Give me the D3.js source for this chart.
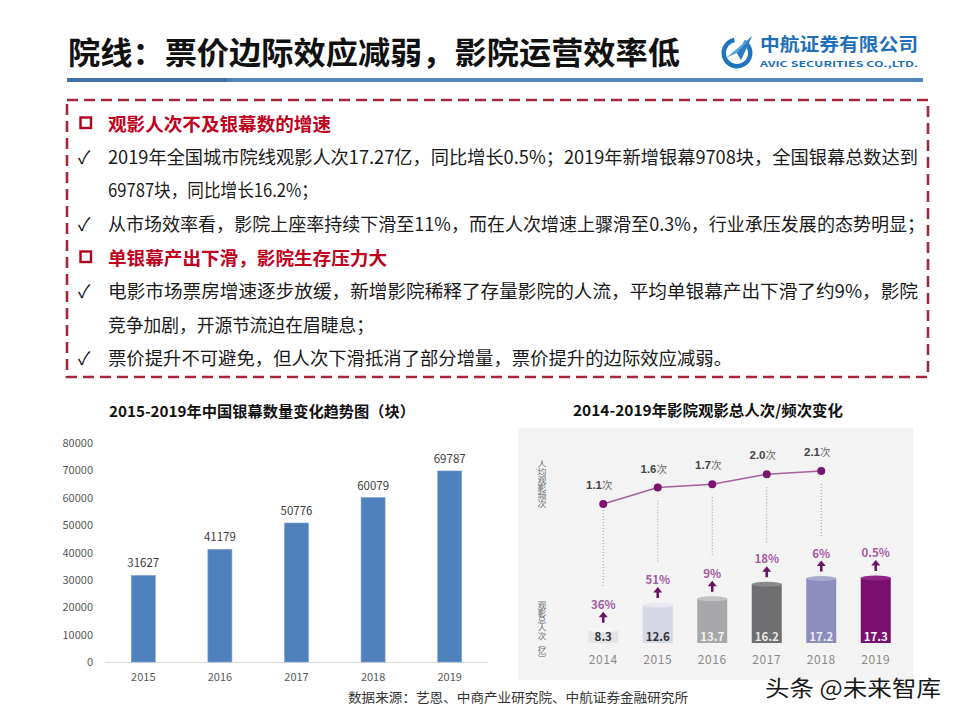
<!DOCTYPE html>
<html><head><meta charset="utf-8">
<script src="https://cdn.jsdelivr.net/npm/d3@7"></script>
<style>
html,body{margin:0;padding:0;background:#fff;}
svg{display:block;}
text{font-family:"Noto Sans CJK SC","Noto Sans",sans-serif;}
</style></head>
<body>
<svg id="c" width="960" height="720"></svg>
<script>
// ---------- data ----------
const screenYears = ["2015","2016","2017","2018","2019"];
const screenCounts = [31627, 41179, 50776, 60079, 69787];
const screenTicks = [0,10000,20000,30000,40000,50000,60000,70000,80000];

const admYears = ["2014","2015","2016","2017","2018","2019"];
const admTotal = [8.3, 12.6, 13.7, 16.2, 17.2, 17.3];          // 观影总人次（亿）
const admGrowth = ["36%","51%","9%","18%","6%","0.5%"];
const freqYears = ["2014","2015","2016","2017","2018"];
const freqValues = [1.1, 1.6, 1.7, 2.0, 2.1];                  // 人均观影频次
const barColors = ["#e4e4e6","#d6d8e6","#a8a8aa","#6f6f71","#8c8dbd","#7a0f70"];
const barTopColors = ["#f6f6f6","#e8e9f2","#c2c2c4","#8a8a8c","#a9aad0","#93268a"];
const barLabelColors = ["#333","#333","#f2f2f2","#e6e6e6","#ececf4","#ffffff"];

const bullets = [
  {type:"head", text:"观影人次不及银幕数的增速", y:131, w:223},
  {type:"check", text:"2019年全国城市院线观影人次17.27亿，同比增长0.5%；2019年新增银幕9708块，全国银幕总数达到", y:164, w:810},
  {type:"cont", text:"69787块，同比增长16.2%；", y:197, w:210},
  {type:"check", text:"从市场效率看，影院上座率持续下滑至11%，而在人次增速上骤滑至0.3%，行业承压发展的态势明显；", y:231, w:817},
  {type:"head", text:"单银幕产出下滑，影院生存压力大", y:265, w:279},
  {type:"check", text:"电影市场票房增速逐步放缓，新增影院稀释了存量影院的人流，平均单银幕产出下滑了约9%，影院", y:298, w:810},
  {type:"cont", text:"竞争加剧，开源节流迫在眉睫息；", y:332, w:266},
  {type:"check", text:"票价提升不可避免，但人次下滑抵消了部分增量，票价提升的边际效应减弱。", y:365, w:624}
];

const svg = d3.select("#c");

// ---------- header ----------
svg.append("text").attr("x",68).attr("y",64)
  .attr("font-size",31).attr("font-weight",700).attr("fill","#111")
  .attr("textLength",612).attr("lengthAdjust","spacingAndGlyphs")
  .text("院线：票价边际效应减弱，影院运营效率低");

// logo
const logo = svg.append("g");
logo.append("path")
  .attr("d", d3.arc()({innerRadius:11, outerRadius:15.5, startAngle:0.55, endAngle:2*Math.PI-0.2}))
  .attr("transform","translate(737,53)").attr("fill","#1f74bf");
logo.append("path").attr("d","M726,58 L752,36 L741,60 L737,53 Z").attr("fill","#5aa6dd");
logo.append("path").attr("d","M737,53 L752,36 L741,60 Z").attr("fill","#2b7cc4");
logo.append("text").attr("x",760).attr("y",51).attr("font-size",18).attr("font-weight",700)
  .attr("fill","#1f6fba").attr("textLength",158).attr("lengthAdjust","spacingAndGlyphs").text("中航证券有限公司");
logo.append("text").attr("x",760).attr("y",67).attr("font-size",8).attr("font-weight",700)
  .attr("font-family","Liberation Sans, Arial, sans-serif")
  .attr("fill","#1f6fba").attr("textLength",158).attr("lengthAdjust","spacingAndGlyphs").text("AVIC SECURITIES CO.,LTD.");

svg.append("rect").attr("x",67).attr("y",78).attr("width",160).attr("height",4).attr("fill","#3f6ea9");
svg.append("rect").attr("x",227).attr("y",78).attr("width",696).attr("height",4).attr("fill","#5282bd");

// dashed box
svg.append("rect").attr("x",67).attr("y",100).attr("width",861).attr("height",277)
  .attr("fill","none").attr("stroke","#a3283d").attr("stroke-width",2.6)
  .attr("stroke-dasharray","11,6");

const bg = svg.append("g");
bullets.forEach(b=>{
  if(b.type==="head"){
    bg.append("rect").attr("x",80.5).attr("y",b.y-13.5).attr("width",10.5).attr("height",10.5)
      .attr("fill","none").attr("stroke","#b0001e").attr("stroke-width",2.4);
    bg.append("text").attr("x",108).attr("y",b.y).attr("font-size",18).attr("font-weight",700)
      .attr("fill","#c0001d").attr("textLength",b.w).attr("lengthAdjust","spacingAndGlyphs").text(b.text);
  } else {
    if(b.type==="check"){
      bg.append("text").attr("x",78).attr("y",b.y).attr("font-size",18)
        .attr("font-family","DejaVu Sans, sans-serif").attr("fill","#111").text("✓");
    }
    bg.append("text").attr("x",108).attr("y",b.y).attr("font-size",18).attr("font-weight",400)
      .attr("fill","#1a1a1a").attr("textLength",b.w).attr("lengthAdjust","spacingAndGlyphs").text(b.text);
  }
});

// ---------- left chart ----------
svg.append("text").attr("x",109).attr("y",417).attr("font-size",15).attr("font-weight",700)
  .attr("fill","#111").attr("textLength",306).attr("lengthAdjust","spacingAndGlyphs")
  .text("2015-2019年中国银幕数量变化趋势图（块）");

const xL = d3.scaleBand().domain(screenYears).range([105,488]).paddingInner(0.686).paddingOuter(0.343);
const yL = d3.scaleLinear().domain([0,80000]).range([662,443]);
const gL = svg.append("g");

const yAx = gL.append("g").attr("transform","translate(105,0)")
  .call(d3.axisLeft(yL).tickValues(screenTicks).tickSize(0).tickPadding(12).tickFormat(d3.format("d")));
yAx.select(".domain").remove();
yAx.selectAll("text").attr("font-family","Liberation Sans, Arial, sans-serif").attr("font-size",11).attr("fill","#595959");

const xAx = gL.append("g").attr("transform","translate(0,662)")
  .call(d3.axisBottom(xL).tickSize(0).tickPadding(11));
xAx.select(".domain").attr("stroke","#d9d9d9").attr("stroke-width",1.2);
xAx.selectAll("text").attr("font-family","Liberation Sans, Arial, sans-serif").attr("font-size",11).attr("fill","#595959");

gL.selectAll("rect.bar").data(screenCounts).join("rect").attr("class","bar")
  .attr("x",(d,i)=>xL(screenYears[i])).attr("width",xL.bandwidth())
  .attr("y",d=>yL(d)).attr("height",d=>662-yL(d)).attr("fill","#4f81bd")
  .attr("stroke","#7ea3d1").attr("stroke-width",0.6);
gL.selectAll("text.val").data(screenCounts).join("text").attr("class","val")
  .attr("x",(d,i)=>xL(screenYears[i])+xL.bandwidth()/2).attr("y",d=>yL(d)-8)
  .attr("text-anchor","middle").attr("font-family","Liberation Sans, Arial, sans-serif")
  .attr("font-size",11.5).attr("fill","#404040").text(d=>d);

// ---------- right chart ----------
svg.append("text").attr("x",573).attr("y",416).attr("font-size",15).attr("font-weight",700)
  .attr("fill","#111").attr("textLength",270).attr("lengthAdjust","spacingAndGlyphs")
  .text("2014-2019年影院观影总人次/频次变化");

const gR = svg.append("g");
gR.append("rect").attr("x",518).attr("y",428).attr("width",395).attr("height",252).attr("fill","#f3f3f4");

const xR = d3.scaleBand().domain(admYears).range([576,903]).paddingInner(0.45).paddingOuter(0.225);
const cx = y => xR(y)+xR.bandwidth()/2;
const yF = d3.scaleLinear().domain([1.1,2.1]).range([504,471]);
const yB = d3.scaleLinear().domain([6,17.3]).range([643,578]);

// vertical axis captions (vertical writing)
gR.append("text").attr("x",542).attr("y",460).attr("writing-mode","vertical-rl")
  .style("writing-mode","vertical-rl")
  .attr("font-size",9).attr("fill","#6a6a6a")
  .attr("textLength",48).attr("lengthAdjust","spacingAndGlyphs").text("人均观影频次");
gR.append("text").attr("x",542).attr("y",601).attr("writing-mode","vertical-rl")
  .style("writing-mode","vertical-rl")
  .attr("font-size",8.5).attr("fill","#6a6a6a")
  .attr("textLength",62).attr("lengthAdjust","spacingAndGlyphs").text("观影总人次（亿）");

// dotted droplines
gR.selectAll("line.drop").data(freqValues).join("line").attr("class","drop")
  .attr("x1",(d,i)=>cx(freqYears[i])).attr("x2",(d,i)=>cx(freqYears[i]))
  .attr("y1",d=>yF(d)+(d<1.5?6:13))
  .attr("y2",(d,i)=>yB(admTotal[i])-42)
  .attr("stroke","#9a9a9a").attr("stroke-width",1).attr("stroke-dasharray","1,2");

// line
gR.append("path").datum(freqValues)
  .attr("d", d3.line().x((d,i)=>cx(freqYears[i])).y(d=>yF(d)))
  .attr("fill","none").attr("stroke","#a3609c").attr("stroke-width",1.4);
gR.selectAll("circle.pt").data(freqValues).join("circle").attr("class","pt")
  .attr("cx",(d,i)=>cx(freqYears[i])).attr("cy",d=>yF(d)).attr("r",4).attr("fill","#7a1670");
const fl = gR.selectAll("text.fl").data(freqValues).join("text").attr("class","fl")
  .attr("x",(d,i)=>cx(freqYears[i])-4).attr("y",d=>yF(d)-15).attr("text-anchor","middle")
  .attr("font-size",11.5).attr("fill","#444");
fl.append("tspan").attr("font-family","Liberation Sans, Arial, sans-serif").attr("font-weight",700).text(d=>d.toFixed(1));
fl.append("tspan").attr("font-size",10.5).attr("fill","#666").text("次");

// cylinders
admTotal.forEach((v,i)=>{
  const x = xR(admYears[i]), w = xR.bandwidth(), top = yB(v);
  gR.append("rect").attr("x",x).attr("y",top).attr("width",w).attr("height",643-top).attr("fill",barColors[i]);
  gR.append("ellipse").attr("cx",x+w/2).attr("cy",top).attr("rx",w/2).attr("ry",2.5).attr("fill",barTopColors[i]);
});
gR.selectAll("text.bv").data(admTotal).join("text").attr("class","bv")
  .attr("x",(d,i)=>cx(admYears[i])).attr("y",641).attr("text-anchor","middle")
  .attr("font-family","Liberation Sans, Arial, sans-serif").attr("font-weight",700).attr("font-size",11.5)
  .attr("fill",(d,i)=>barLabelColors[i]).text(d=>d.toFixed(1));

// growth labels + arrows
gR.selectAll("text.gr").data(admGrowth).join("text").attr("class","gr")
  .attr("x",(d,i)=>cx(admYears[i])).attr("y",(d,i)=>yB(admTotal[i])-21).attr("text-anchor","middle")
  .attr("font-family","Liberation Sans, Arial, sans-serif").attr("font-weight",700)
  .attr("font-size",11.5).attr("fill","#a45aa0").text(d=>d);
admTotal.forEach((v,i)=>{
  const x = cx(admYears[i]), t = yB(v)-7;
  gR.append("path").attr("d",`M${x},${t-11} L${x+4.5},${t-5.5} L${x+1.3},${t-5.5} L${x+1.3},${t} L${x-1.3},${t} L${x-1.3},${t-5.5} L${x-4.5},${t-5.5} Z`)
    .attr("fill","#6b1463");
});

// year labels
gR.selectAll("text.yr").data(admYears).join("text").attr("class","yr")
  .attr("x",d=>cx(d)).attr("y",664).attr("text-anchor","middle")
  .attr("font-family","Liberation Sans, Arial, sans-serif").attr("font-size",12)
  .attr("letter-spacing",0.6).attr("fill","#8a8a8a").text(d=>d);

// ---------- footer ----------
svg.append("text").attr("x",348).attr("y",702).attr("font-size",13).attr("fill","#333")
  .attr("textLength",340).attr("lengthAdjust","spacingAndGlyphs")
  .text("数据来源：艺恩、中商产业研究院、中航证券金融研究所");
svg.append("text").attr("x",765).attr("y",696).attr("font-size",22).attr("fill","#1a1a1a")
  .attr("textLength",176).attr("lengthAdjust","spacingAndGlyphs").text("头条 @未来智库");
</script>
</body></html>
